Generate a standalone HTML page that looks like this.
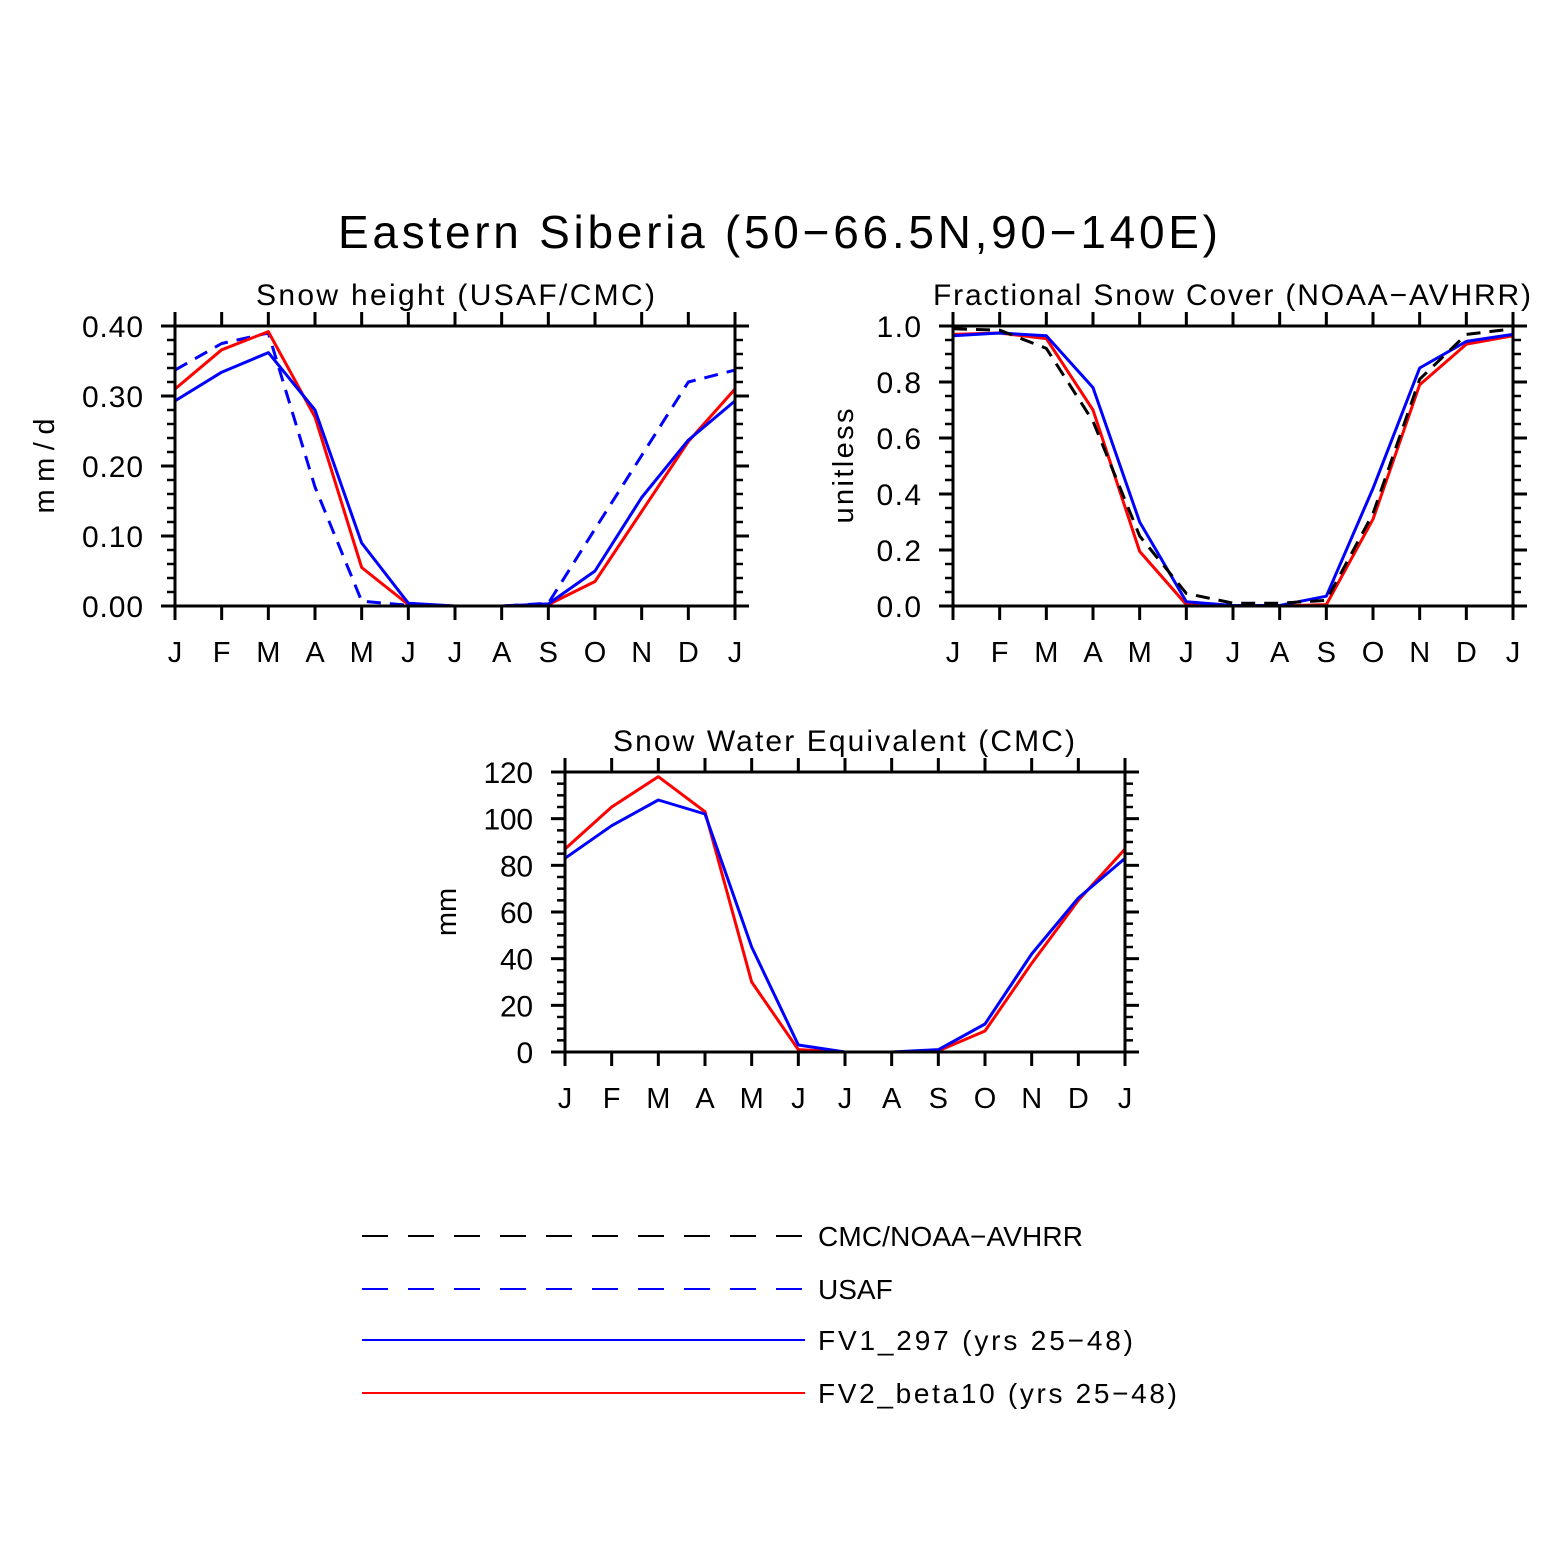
<!DOCTYPE html>
<html><head><meta charset="utf-8"><style>
html,body{margin:0;padding:0;background:#fff;}
svg text{font-family:"Liberation Sans",sans-serif;fill:#000;}
</style></head><body>
<svg id="fig" width="1556" height="1556" xmlns="http://www.w3.org/2000/svg">
<rect width="1556" height="1556" fill="#fff"/>
<text x="338" y="248" font-size="46" textLength="880" lengthAdjust="spacing">Eastern Siberia (50−66.5N,90−140E)</text>
<g id="legend">
<line x1="362" y1="1236" x2="805" y2="1236" stroke="#000" stroke-width="2" stroke-dasharray="26,20"/>
<text x="818" y="1246" font-size="28" textLength="265" lengthAdjust="spacing">CMC/NOAA−AVHRR</text>
<line x1="362" y1="1289" x2="805" y2="1289" stroke="#00f" stroke-width="2" stroke-dasharray="26,20"/>
<text x="818" y="1299" font-size="28">USAF</text>
<line x1="362" y1="1340" x2="805" y2="1340" stroke="#00f" stroke-width="2"/>
<text x="818" y="1350" font-size="28" textLength="315" lengthAdjust="spacing">FV1_297 (yrs 25−48)</text>
<line x1="362" y1="1393" x2="805" y2="1393" stroke="#f00" stroke-width="2"/>
<text x="818" y="1403" font-size="28" textLength="359" lengthAdjust="spacing">FV2_beta10 (yrs 25−48)</text>
</g>
</svg>
<script>
const months = ["J","F","M","A","M","J","J","A","S","O","N","D","J"];
const snowRed = [0.31,0.366,0.392,0.27,0.055,0.002,0,0,0.002,0.035,0.135,0.235,0.31];
const snowBlue = [0.293,0.334,0.362,0.28,0.09,0.004,0,0,0.003,0.05,0.155,0.237,0.293];
const snowUsaf = [0.337,0.375,0.39,0.17,0.007,0.001,0,0,0.004,0.11,0.215,0.32,0.337];
const snowTicks = ["0.00","0.10","0.20","0.30","0.40"];
const fscRed = [0.97,0.975,0.955,0.70,0.195,0.005,0,0,0.005,0.31,0.79,0.935,0.965];
const fscBlue = [0.965,0.975,0.965,0.78,0.30,0.015,0.002,0.002,0.035,0.42,0.85,0.945,0.97];
const fscObs = [0.99,0.985,0.92,0.66,0.25,0.045,0.01,0.01,0.02,0.33,0.81,0.97,0.99];
const fscTicks = ["0.0","0.2","0.4","0.6","0.8","1.0"];
const sweRed = [87,105,118,103,30,1,0,0,0.5,9,38,65,87];
const sweBlue = [83,97,108,102,45,3,0,0,1,12,42,66,83];
const sweObs = [0,0,0,0,0,0,0,0,0,0,0,0,0];
const sweTicks = ["0","20","40","60","80","100","120"];

const NS="http://www.w3.org/2000/svg";
const svg=document.getElementById('fig');
function el(tag,attrs,parent){const e=document.createElementNS(NS,tag);for(const k in attrs)e.setAttribute(k,attrs[k]);(parent||svg).appendChild(e);return e;}

function panel(name,x0,y0,w,h,ymax,ticks,minorPer,title,titleX,titleLen,ylab,series){
  const g=el('g',{});
  
  
  const xs=i=>x0+i*w/(months.length-1);
  const ys=v=>y0+h-v/ymax*h;
  series.forEach(s=>{
    const p=el('polyline',{points:s.data.map((v,i)=>xs(i)+','+ys(v)).join(' '),fill:'none',stroke:s.color,'stroke-width':3,'stroke-dasharray':s.dash||'none','stroke-linejoin':'round'},g);
    
    
  });
  const fr=el('rect',{x:x0,y:y0,width:w,height:h,fill:'none',stroke:'#000','stroke-width':3},g);
  
  
  months.forEach((m,i)=>{
    const x=xs(i);
    el('line',{x1:x,y1:y0,x2:x,y2:y0-14,stroke:'#000','stroke-width':3},g);
    el('line',{x1:x,y1:y0+h,x2:x,y2:y0+h+14,stroke:'#000','stroke-width':3},g);
    const t=el('text',{x:x,y:y0+h+56,'font-size':29,'text-anchor':'middle'},g);
    t.textContent=m;
    
    
  });
  const n=ticks.length-1;
  for(let i=0;i<=n;i++){
    const y=y0+h-i*h/n;
    el('line',{x1:x0,y1:y,x2:x0-14,y2:y,stroke:'#000','stroke-width':3},g);
    el('line',{x1:x0+w,y1:y,x2:x0+w+14,y2:y,stroke:'#000','stroke-width':3},g);
    const len=ticks[i].length*16.5+(ticks[i].indexOf('.')>=0?-5:0);
    const t=el('text',{x:x0-32-len,y:y+11,'font-size':30,textLength:len,lengthAdjust:'spacing'},g);
    t.textContent=ticks[i];
    
    
    if(i<n){for(let j=1;j<minorPer;j++){const ym=y-j*h/n/minorPer;
      el('line',{x1:x0,y1:ym,x2:x0-8,y2:ym,stroke:'#000','stroke-width':2.5},g);
      el('line',{x1:x0+w,y1:ym,x2:x0+w+8,y2:ym,stroke:'#000','stroke-width':2.5},g);}}
  }
  const tt=el('text',{x:titleX,y:y0-21,'font-size':30,textLength:titleLen,lengthAdjust:'spacing'},g);
  tt.textContent=title;
  
  
  const ya={x:0,y:0,'font-size':29,'text-anchor':'middle',transform:'translate('+(x0-ylab[1])+','+(y0+h/2)+') rotate(-90)'};
  if(ylab[2]){ya.textLength=ylab[2];ya.lengthAdjust='spacing';}
  const yl=el('text',ya,g);
  yl.textContent=ylab[0];
  
  
}
panel('snow-height-panel',175,326,560,280,0.4,snowTicks,5,'Snow height (USAF/CMC)',256,399,['mm/d',121,95],[
 {name:'usaf-line',data:snowUsaf,color:'#00f',dash:'14,9'},
 {name:'fv2-line',data:snowRed,color:'#f00'},
 {name:'fv1-line',data:snowBlue,color:'#00f'}]);
panel('snow-cover-panel',953,326,560,280,1.0,fscTicks,4,'Fractional Snow Cover (NOAA−AVHRR)',933,598,['unitless',100,115],[
 {name:'fv2-line',data:fscRed,color:'#f00'},
 {name:'fv1-line',data:fscBlue,color:'#00f'},
 {name:'obs-line',data:fscObs,color:'#000',dash:'14,9'}]);
panel('swe-panel',565,772,560,280,120,sweTicks,4,'Snow Water Equivalent (CMC)',613,462,['mm',109,0],[
 {name:'obs-line',data:sweObs,color:'#000',dash:'14,9'},
 {name:'fv2-line',data:sweRed,color:'#f00'},
 {name:'fv1-line',data:sweBlue,color:'#00f'}]);
</script>
</body></html>
